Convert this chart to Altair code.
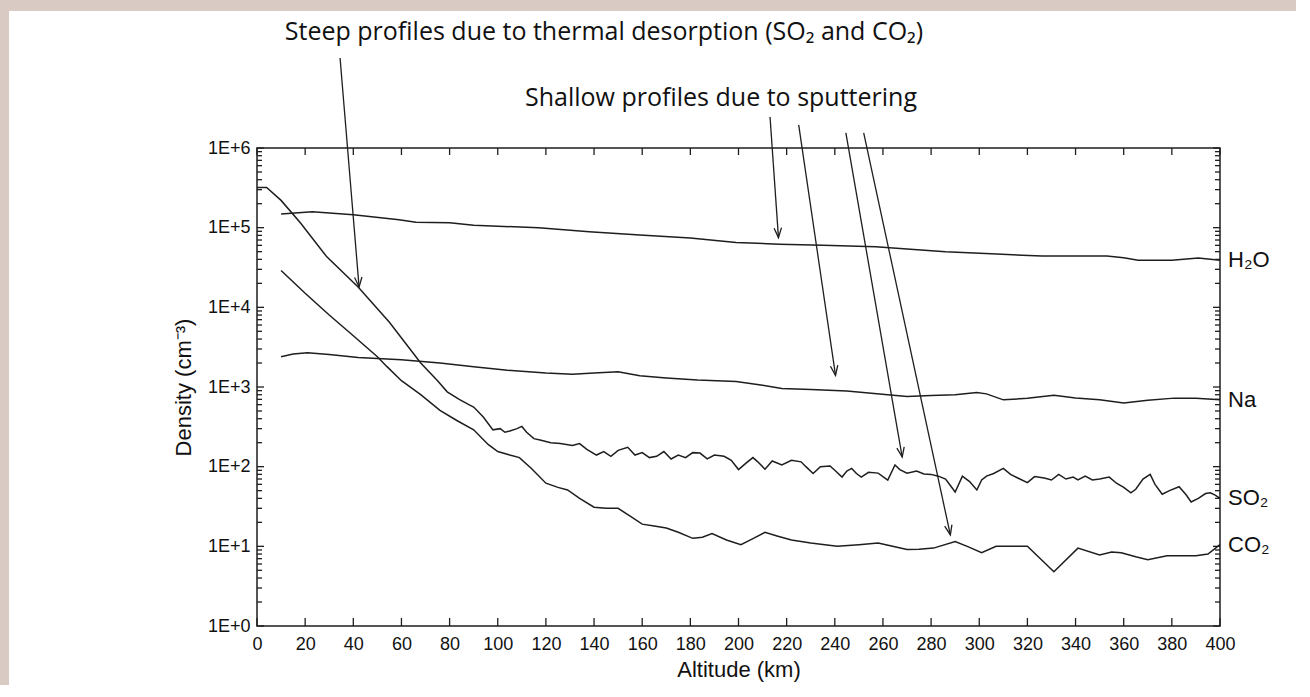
import math
import altair as alt
import pandas as pd

# ---------------- data ----------------
H2O_KM = [10, 23, 40, 59, 66, 80, 90, 117, 138, 159, 180, 199, 217, 235, 257, 270, 286, 305, 326, 353, 360, 366, 380, 391, 400]
H2O = [1.48e5, 1.58e5, 1.45e5, 1.26e5, 1.17e5, 1.15e5, 1.07e5, 1.0e5, 8.9e4, 8.1e4, 7.4e4, 6.5e4, 6.2e4, 6.0e4,
       5.75e4, 5.4e4, 5.0e4, 4.7e4, 4.4e4, 4.4e4, 4.2e4, 3.9e4, 3.9e4, 4.15e4, 3.9e4]

NA_KM = [10, 15, 21, 30, 42, 60, 76, 90, 104, 120, 131, 140, 150, 159, 170, 183, 199, 210, 218, 230, 245, 262,
         270, 280, 290, 299, 303, 310, 320, 331, 340, 350, 360, 370, 381, 390, 400]
NA = [2.4e3, 2.6e3, 2.7e3, 2.55e3, 2.35e3, 2.2e3, 2.0e3, 1.8e3, 1.62e3, 1.5e3, 1.45e3, 1.5e3, 1.55e3, 1.38e3,
      1.3e3, 1.22e3, 1.17e3, 1.05e3, 960, 930, 890, 800, 760, 780, 800, 850, 820, 690, 720, 790, 730, 690, 630,
      680, 725, 720, 690]

SO2_KM = [0, 4, 10, 18, 29, 42, 55, 68, 75, 79, 84, 88, 90, 94, 98, 101, 103, 105, 108, 110, 112, 115, 118, 122,
          126, 131, 134, 137, 141, 144, 147, 150, 154, 157, 160, 163, 166, 169, 172, 175, 178, 181, 184, 187, 190,
          194, 197, 200, 203, 206, 208, 211, 214, 218, 222, 226, 228, 231, 234, 238, 240, 243, 245, 247, 249, 251,
          254, 258, 262, 265, 267, 270, 274, 277, 280, 283, 286, 288, 290, 293, 296, 299, 301, 303, 306, 310, 313,
          316, 320, 323, 327, 330, 333, 336, 339, 341, 344, 347, 350, 354, 357, 360, 363, 365, 368, 371, 373, 376,
          379, 383, 386, 388, 391, 394, 396, 398, 400]
SO2 = [3.2e5, 3.2e5, 2.2e5, 1.15e5, 4.3e4, 1.8e4, 6.5e3, 2.0e3, 1.2e3, 870, 700, 600, 560, 420, 290, 300, 270, 280,
       300, 320, 270, 225, 215, 200, 195, 185, 195, 165, 140, 155, 135, 160, 175, 140, 150, 130, 135, 155, 125, 140,
       130, 150, 148, 125, 140, 135, 120, 92, 110, 130, 115, 93, 118, 105, 120, 115, 100, 82, 100, 102, 90, 74, 88,
       95, 82, 74, 85, 83, 68, 105, 92, 83, 88, 81, 80, 76, 70, 58, 48, 76, 65, 51, 68, 76, 82, 95, 80, 72, 63, 75,
       72, 68, 80, 70, 74, 68, 76, 68, 70, 74, 62, 55, 47, 52, 70, 80, 60, 45, 50, 56, 44, 36, 40, 46, 47, 44, 40]

CO2_KM = [10, 20, 30, 40, 50, 54, 60, 68, 76, 83, 90, 96, 100, 105, 109, 114, 120, 125, 129, 134, 140, 145, 150,
          155, 160, 165, 170, 175, 181, 185, 189, 195, 201, 206, 211, 216, 222, 230, 241, 250, 258, 264, 270, 275,
          281, 290, 295, 301, 307, 320, 331, 341, 350, 355, 359, 365, 370, 378, 384, 390, 395, 400]
CO2 = [2.9e4, 1.5e4, 8.0e3, 4.4e3, 2.4e3, 1.8e3, 1.2e3, 800, 510, 380, 290, 190, 155, 140, 130, 95, 62, 55, 51, 40,
       31, 30, 30, 24, 19, 18, 17, 15, 12.6, 13, 14.5, 12, 10.5, 12.5, 15, 13.5, 12, 11, 10, 10.5, 11, 10, 9.1,
       9.2, 9.5, 11.5, 10, 8.3, 10, 10, 4.8, 9.5, 7.8, 8.5, 8.3, 7.4, 6.8, 7.6, 7.6, 7.6, 8, 10.5]

SERIES_NAMES = ["H₂O", "Na", "SO₂", "CO₂"]

X_TICKS = [0, 20, 40, 60, 80, 100, 120, 140, 160, 180, 200, 220, 240, 260, 280, 300, 320, 340, 360, 380, 400]
Y_TICKS = [1, 10, 100, 1000, 10000, 100000, 1000000]
MINOR_MULT = [2, 3, 4, 5, 6, 7, 8, 9]

NOTE_STEEP = "Steep profiles due to thermal desorption (SO₂ and CO₂)"
NOTE_SHALLOW = "Shallow profiles due to sputtering"

# arrows: start (km, density) -> end (km, density)
ARROW_X0 = [34.5, 213.1, 225.0, 244.6, 252.0]
ARROW_Y0 = [1.35e7, 2.45e6, 1.95e6, 1.55e6, 1.55e6]
ARROW_X1 = [42.4, 216.6, 240.3, 268.0, 288.0]
ARROW_Y1 = [1.8e4, 7.5e4, 1.4e3, 1.32e2, 1.39e1]

# ---------------- layout ----------------
W, H = 963, 478
PAD_L, PAD_T = 257, 148
PAD_R, PAD_B = 1310 - PAD_L - W - 14, 697 - PAD_T - H - 12
INK = "#1e1e1e"
EDGE = "#d9cac4"

frames = []
for name, km, v in zip(SERIES_NAMES, [H2O_KM, NA_KM, SO2_KM, CO2_KM], [H2O, NA, SO2, CO2]):
    frames.append(pd.DataFrame({"series": name, "km": km, "v": v}))
lines_df = pd.concat(frames, ignore_index=True)

ends_df = pd.DataFrame({
    "series": SERIES_NAMES,
    "km": [H2O_KM[-1], NA_KM[-1], SO2_KM[-1], CO2_KM[-1]],
    "v": [H2O[-1], NA[-1], SO2[-1], CO2[-1]],
})

x_scale = alt.Scale(domain=[0, 400], nice=False, zero=False)
y_scale = alt.Scale(type="log", domain=[1, 1e6], nice=False)
X_AXIS = alt.Axis(values=X_TICKS, title="Altitude (km)", grid=False, domain=False, ticks=False,
                  labelPadding=9, titlePadding=6, labelFlush=False, zindex=1)
Y_AXIS = alt.Axis(values=Y_TICKS, title="Density (cm⁻³)", grid=False, domain=False, ticks=False,
                  labelExpr="'1E+' + round(log(datum.value) / LN10)",
                  labelPadding=7, titlePadding=12, labelFlush=False, zindex=1)


def X(field):
    return alt.X(field, type="quantitative", scale=x_scale, axis=X_AXIS)


def Y(field):
    return alt.Y(field, type="quantitative", scale=y_scale, axis=Y_AXIS)


one_row = pd.DataFrame({"k": [0]})
# pinkish grey strips along the top and left edges of the page
top_strip = alt.Chart(one_row).mark_rect(color=EDGE).encode(
    x=alt.value(-PAD_L), x2=alt.value(W + PAD_R), y=alt.value(-PAD_T), y2=alt.value(-PAD_T + 11))
left_strip = alt.Chart(one_row).mark_rect(color=EDGE).encode(
    x=alt.value(-PAD_L), x2=alt.value(-PAD_L + 9), y=alt.value(-PAD_T), y2=alt.value(H + PAD_B))
# plot frame
frame = alt.Chart(one_row).mark_rect(fill=None, filled=False, stroke=INK, strokeWidth=1.5).encode(
    x=alt.value(0), x2=alt.value(W), y=alt.value(0), y2=alt.value(H))

lines = alt.Chart(lines_df).mark_line(color=INK, strokeWidth=1.5, clip=False).encode(
    x=X("km"), y=Y("v"), detail="series:N")

end_labels = alt.Chart(ends_df).mark_text(align="left", baseline="middle", dx=8, fontSize=22,
                                          font="Liberation Sans", color="#111").encode(
    x=X("km"), y=Y("v"), text="series:N")

# inward ticks on all four sides
xt_df = pd.DataFrame({"t": X_TICKS})
minor = [m * d for d in Y_TICKS[:-1] for m in MINOR_MULT]
ymaj_df = pd.DataFrame({"t": Y_TICKS})
ymin_df = pd.DataFrame({"t": minor})

tick_style = dict(color=INK, strokeWidth=1.3)
bottom_ticks = alt.Chart(xt_df).mark_rule(**tick_style).encode(x=X("t"), y=alt.value(H), y2=alt.value(H - 8))
top_ticks = alt.Chart(xt_df).mark_rule(**tick_style).encode(x=X("t"), y=alt.value(0), y2=alt.value(7))
left_major = alt.Chart(ymaj_df).mark_rule(**tick_style).encode(y=Y("t"), x=alt.value(0), x2=alt.value(7))
left_minor = alt.Chart(ymin_df).mark_rule(**tick_style).encode(y=Y("t"), x=alt.value(0), x2=alt.value(5))
right_major = alt.Chart(ymaj_df).mark_rule(**tick_style).encode(y=Y("t"), x=alt.value(W), x2=alt.value(W - 7))
right_minor = alt.Chart(ymin_df).mark_rule(**tick_style).encode(y=Y("t"), x=alt.value(W), x2=alt.value(W - 5))

# arrows
angles = []
for x0, y0, x1, y1 in zip(ARROW_X0, ARROW_Y0, ARROW_X1, ARROW_Y1):
    dx = (x1 - x0) * W / 400.0
    dy = (math.log10(y0) - math.log10(y1)) * H / 6.0
    angles.append((-math.degrees(math.atan2(dx, dy))) % 360)
arrow_df = pd.DataFrame({"x0": ARROW_X0, "y0": ARROW_Y0, "x1": ARROW_X1, "y1": ARROW_Y1, "ang": angles})

arrow_lines = alt.Chart(arrow_df).mark_rule(color=INK, strokeWidth=1.3, clip=False).encode(
    x=X("x0"), y=Y("y0"), x2="x1:Q", y2="y1:Q")
arrow_heads = alt.Chart(arrow_df).mark_point(
    shape="M-0.38,-1L0,0L0.38,-1", filled=False, size=380, color=INK, strokeWidth=1.3, opacity=1, clip=False
).encode(x=X("x1"), y=Y("y1"), angle=alt.Angle("ang:Q", scale=None))

# annotation texts (positioned in pixels above the plot area)
note_style = dict(font="Open Sans", fontSize=25, color="#111", baseline="middle", align="center")
note1 = alt.Chart(pd.DataFrame({"text": [NOTE_STEEP]})).mark_text(**note_style).encode(
    x=alt.value(347), y=alt.value(-116), text="text:N")
note2 = alt.Chart(pd.DataFrame({"text": [NOTE_SHALLOW]})).mark_text(**note_style).encode(
    x=alt.value(464), y=alt.value(-50), text="text:N")

chart = alt.layer(
    top_strip, left_strip, frame, lines, end_labels, bottom_ticks, top_ticks, left_major, left_minor,
    right_major, right_minor, arrow_lines, arrow_heads, note1, note2
).properties(
    width=W, height=H,
    autosize=alt.AutoSizeParams(type="none"),
    padding={"left": PAD_L, "top": PAD_T, "right": PAD_R, "bottom": PAD_B},
    background="white",
).configure_view(stroke=None).configure_axis(
    labelFont="Liberation Sans", labelFontSize=18, labelColor="#111",
    titleFont="Liberation Sans", titleFontSize=22, titleColor="#111", titleFontWeight="normal",
)

chart.save("out.html", embed_options={"renderer": "svg", "actions": False})
